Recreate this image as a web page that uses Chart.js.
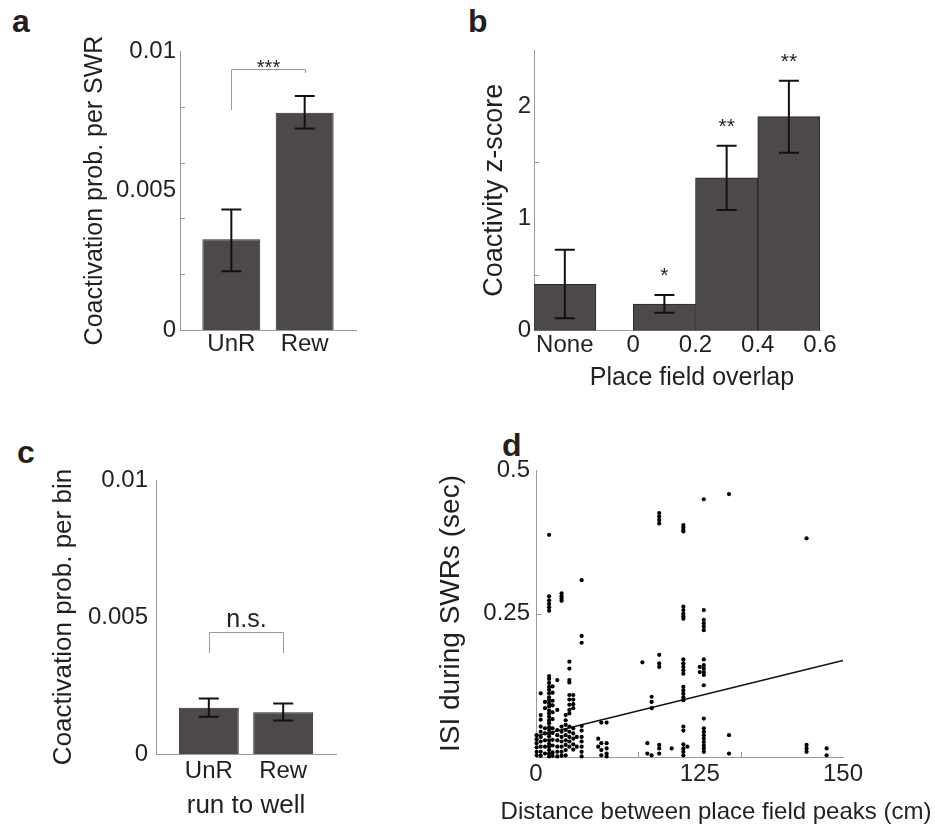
<!DOCTYPE html>
<html><head><meta charset="utf-8">
<script src="https://cdn.jsdelivr.net/npm/chart.js@4"></script>
<style>
html,body{margin:0;padding:0;background:#fff;}
body{width:935px;height:829px;position:relative;overflow:hidden;font-family:"Liberation Sans",Arial,sans-serif;}
canvas{position:absolute;}
.lab{position:absolute;font-weight:bold;font-size:32px;line-height:32px;color:#231f20;}
</style></head><body>
<div class="lab" style="left:12px;top:5px">a</div>
<div class="lab" style="left:468px;top:5px">b</div>
<div class="lab" style="left:17px;top:436px">c</div>
<div class="lab" style="left:502px;top:429px">d</div>
<canvas id="ca" width="420" height="420" style="left:0;top:0"></canvas>
<canvas id="cb" width="470" height="420" style="left:430px;top:0"></canvas>
<canvas id="cc" width="420" height="409" style="left:0;top:420px"></canvas>
<canvas id="cd" width="505" height="409" style="left:430px;top:420px"></canvas>
<script>
// ---------- data ----------
// panel a
const aCats = ['UnR', 'Rew'];
const aPos = [1, 2];
const aMean = [0.00325, 0.00779];
const aErrLo = [0.00211, 0.00722];
const aErrHi = [0.00432, 0.00839];
const aYTicks = [0, 0.005, 0.01];
const aYLabels = ['0', '0.005', '0.01'];
const aYMinor = [0.002, 0.004, 0.006, 0.008];

// panel b
const bTickPos = [-0.22, 0, 0.2, 0.4, 0.6];
const bTickLabels = ['None', '0', '0.2', '0.4', '0.6'];
const bBarPos = [-0.22, 0.1, 0.3, 0.5];
const bMean = [0.413, 0.238, 1.362, 1.906];
const bErrLo = [0.11, 0.16, 1.075, 1.585];
const bErrHi = [0.72, 0.318, 1.647, 2.226];
const bStars = ['', '*', '**', '**'];
const bYTicks = [0, 1, 2];
const bYLabels = ['0', '1', '2'];
const bYMinor = [0.5, 1.5];

// panel c
const cCats = ['UnR', 'Rew'];
const cPos = [1, 2];
const cMean = [0.00169, 0.00152];
const cErrLo = [0.00136, 0.00122];
const cErrHi = [0.00203, 0.00184];
const cYTicks = [0, 0.005, 0.01];
const cYLabels = ['0', '0.005', '0.01'];

// panel d (scatter, grouped by distance column)
const dColX = [0.3, 2.3, 4.4, 6.4, 8.1, 10.4, 12.5, 14.5, 16.3, 18.2, 19.9, 22.3, 30.4, 31.9, 34.5, 52, 54.4, 56.5, 60.2, 66.3, 72, 74, 80, 82, 94.3, 132.2, 142];
const dColY = [
  [0.038, 0.031, 0.024, 0.017, 0.009, 0.003],
  [0.111, 0.073, 0.065, 0.053, 0.044, 0.035, 0.027, 0.018, 0.009, 0.002],
  [0.096, 0.085, 0.050, 0.041, 0.029, 0.018, 0.006],
  [0.387, 0.280, 0.273, 0.267, 0.261, 0.255, 0.141, 0.136, 0.129, 0.122, 0.117, 0.111, 0.104, 0.099, 0.093, 0.088, 0.081, 0.076, 0.070, 0.064, 0.059, 0.052, 0.047, 0.041, 0.036, 0.029, 0.023, 0.018, 0.012, 0.006, 0.001],
  [0.123, 0.112, 0.098, 0.090, 0.078, 0.066, 0.050, 0.042, 0.030, 0.020, 0.008, 0.002],
  [0.134, 0.082, 0.047, 0.038, 0.029, 0.018, 0.009, 0.001],
  [0.285, 0.280, 0.276, 0.272, 0.053, 0.044, 0.035, 0.027, 0.018, 0.009, 0.002],
  [0.073, 0.064, 0.056, 0.047, 0.038, 0.029, 0.021, 0.012, 0.003],
  [0.166, 0.154, 0.134, 0.130, 0.108, 0.100, 0.091, 0.082, 0.076, 0.053, 0.044, 0.035, 0.027, 0.018],
  [0.108, 0.100, 0.092, 0.085, 0.050, 0.041, 0.032, 0.022, 0.013],
  [0.035, 0.018],
  [0.308, 0.211, 0.199, 0.054, 0.046, 0.035, 0.027, 0.018, 0.009, 0.001],
  [0.032, 0.018],
  [0.060, 0.024, 0.012, 0.003],
  [0.060, 0.024, 0.015, 0.006, 0.001],
  [0.165],
  [0.024, 0.006],
  [0.105, 0.096, 0.085, 0.003],
  [0.425, 0.419, 0.413, 0.407, 0.178, 0.163, 0.157, 0.021, 0.015, 0.006],
  [0.015],
  [0.404, 0.400, 0.396, 0.393, 0.262, 0.256, 0.250, 0.245, 0.241, 0.170, 0.163, 0.157, 0.151, 0.145, 0.122, 0.116, 0.110, 0.104, 0.099, 0.053, 0.046, 0.022, 0.015, 0.009, 0.003],
  [0.018],
  [0.157, 0.148],
  [0.449, 0.256, 0.239, 0.233, 0.227, 0.221, 0.170, 0.160, 0.154, 0.148, 0.143, 0.125, 0.067, 0.050, 0.044, 0.038, 0.032, 0.026, 0.020, 0.015, 0.009],
  [0.458, 0.038, 0.006],
  [0.381, 0.021, 0.015, 0.009],
  [0.015, 0.003]
];
const fitX = [0.5, 150];
const fitY = [0.037, 0.168];
const dXTickPos = [0, 80, 150];
const dXTickLabels = ['0', '125', '150'];
const dXMinor = [50, 100];
const dYTicks = [0, 0.25, 0.5];
const dYLabels = ['', '0.25', '0.5'];
const dYMinor = [0.25];

// ---------- style ----------
const FONT = '"Liberation Sans", Arial, Helvetica, sans-serif';
const TXT = '#231f20';
const AX = '#9a9a9a';
const BAR = '#4d4948';
const BAR_EDGE = '#2b2727';
Chart.defaults.font.family = FONT;
Chart.defaults.color = TXT;

function makeDeco(cfg) {
  return {
    id: 'deco_' + cfg.name,
    afterDatasetsDraw(chart) {
      const ctx = chart.ctx, xs = chart.scales.x, ys = chart.scales.y, ca = chart.chartArea;
      ctx.save();
      ctx.strokeStyle = AX; ctx.lineWidth = 1;
      (cfg.yMinor || []).forEach(v => {
        const py = Math.round(ys.getPixelForValue(v)) + 0.5;
        ctx.beginPath(); ctx.moveTo(ca.left, py); ctx.lineTo(ca.left + 5, py); ctx.stroke();
      });
      (cfg.xMinor || []).forEach(v => {
        const px = Math.round(xs.getPixelForValue(v)) + 0.5;
        ctx.beginPath(); ctx.moveTo(px, ca.bottom); ctx.lineTo(px, ca.bottom - 5); ctx.stroke();
      });
      if (cfg.err) {
        const e = cfg.err;
        ctx.strokeStyle = '#111'; ctx.lineWidth = 2;
        e.pos.forEach((p, i) => {
          const px = xs.getPixelForValue(p), yl = ys.getPixelForValue(e.lo[i]), yh = ys.getPixelForValue(e.hi[i]);
          ctx.beginPath();
          ctx.moveTo(px, yl); ctx.lineTo(px, yh);
          ctx.moveTo(px - 10, yl); ctx.lineTo(px + 10, yl);
          ctx.moveTo(px - 10, yh); ctx.lineTo(px + 10, yh);
          ctx.stroke();
        });
      }
      if (cfg.stars) {
        ctx.fillStyle = TXT; ctx.font = cfg.starSize + 'px ' + FONT;
        ctx.textAlign = 'center'; ctx.textBaseline = 'alphabetic';
        cfg.stars.forEach((s, i) => {
          if (!s) return;
          const px = xs.getPixelForValue(cfg.err.pos[i]);
          const cy = ys.getPixelForValue(cfg.err.hi[i]) - cfg.starGap;
          ctx.fillText(s, px, cy + 0.585 * cfg.starSize);
        });
      }
      if (cfg.bracket) {
        const b = cfg.bracket;
        const x1 = Math.round(xs.getPixelForValue(b.x1)) + 0.5, x2 = Math.round(xs.getPixelForValue(b.x2)) + 0.5;
        const yt = Math.round(ys.getPixelForValue(b.top)) + 0.5;
        const y1 = ys.getPixelForValue(b.y1), y2 = ys.getPixelForValue(b.y2);
        ctx.strokeStyle = AX; ctx.lineWidth = 1;
        ctx.beginPath(); ctx.moveTo(x1, y1); ctx.lineTo(x1, yt); ctx.lineTo(x2, yt); ctx.lineTo(x2, y2); ctx.stroke();
        ctx.fillStyle = TXT; ctx.font = b.size + 'px ' + FONT;
        ctx.textAlign = 'center'; ctx.textBaseline = 'alphabetic';
        ctx.fillText(b.label, (x1 + x2) / 2, yt - b.gap + b.base * b.size);
      }
      (cfg.texts || []).forEach(t => {
        ctx.fillStyle = TXT; ctx.font = t.size + 'px ' + FONT;
        ctx.textAlign = 'center'; ctx.textBaseline = 'middle';
        ctx.fillText(t.text, t.x, t.y);
      });
      ctx.restore();
    }
  };
}

function xAxis(min, max, pos, labels, h, pad, title) {
  const s = {
    type: 'linear', min, max, offset: false,
    grid: { display: false, drawTicks: false },
    border: { color: AX, width: 1 },
    afterBuildTicks: sc => { sc.ticks = pos.map(v => ({ value: v })); },
    afterFit: sc => { sc.height = h; },
    ticks: { callback: (v, i) => labels[i], padding: pad, font: { size: 24 }, color: TXT, maxRotation: 0, autoSkip: false }
  };
  if (title) s.title = title;
  return s;
}
function yAxis(min, max, pos, labels, w, pad, title) {
  return {
    type: 'linear', min, max,
    grid: { display: false, drawTicks: false },
    border: { color: AX, width: 1 },
    afterBuildTicks: sc => { sc.ticks = pos.map(v => ({ value: v })); },
    afterFit: sc => { sc.width = w; },
    ticks: { callback: (v, i) => labels[i], padding: pad, font: { size: 24 }, color: TXT, autoSkip: false },
    title: title
  };
}
const common = { responsive: false, animation: false, events: [], plugins: { legend: { display: false }, tooltip: { enabled: false } } };

// ---------- panel a ----------
new Chart(document.getElementById('ca'), {
  type: 'bar',
  data: { datasets: [{ data: aPos.map((x, i) => ({ x, y: aMean[i] })), backgroundColor: BAR, borderColor: BAR_EDGE, borderWidth: 1, barPercentage: 0.79, categoryPercentage: 1 }] },
  options: Object.assign({}, common, {
    layout: { padding: { top: 51, right: 64, bottom: 0, left: 0 } },
    scales: {
      x: xAxis(0.3, 2.7, aPos, aCats, 90, 0),
      y: yAxis(0, 0.01, aYTicks, aYLabels, 180, 4, { display: true, text: 'Coactivation prob. per SWR', font: { size: 25 }, color: TXT, padding: { top: 80, bottom: 0 } })
    }
  }),
  plugins: [makeDeco({ name: 'a', yMinor: aYMinor, err: { pos: aPos, lo: aErrLo, hi: aErrHi },
    bracket: { x1: 1, x2: 2, top: 0.00934, y1: 0.00788, y2: 0.00921, label: '***', size: 20, gap: 7, base: 0.585 } })]
});

// ---------- panel b ----------
new Chart(document.getElementById('cb'), {
  type: 'bar',
  data: { datasets: [{ data: bBarPos.map((x, i) => ({ x, y: bMean[i] })), backgroundColor: BAR, borderColor: BAR_EDGE, borderWidth: 1, barPercentage: 1, categoryPercentage: 1 }] },
  options: Object.assign({}, common, {
    layout: { padding: { top: 50, right: 80, bottom: 0, left: 0 } },
    scales: {
      x: xAxis(-0.319, 0.6, bTickPos, bTickLabels, 89.3, 0),
      y: yAxis(0, 2.5, bYTicks, bYLabels, 104, 3, { display: true, text: 'Coactivity z-score', font: { size: 27 }, color: TXT, padding: { top: 48, bottom: 0 } })
    }
  }),
  plugins: [makeDeco({ name: 'b', yMinor: bYMinor, err: { pos: bBarPos, lo: bErrLo, hi: bErrHi }, stars: bStars, starSize: 21, starGap: 25,
    texts: [{ text: 'Place field overlap', x: 262, y: 378, size: 25 }] })]
});

// ---------- panel c ----------
new Chart(document.getElementById('cc'), {
  type: 'bar',
  data: { datasets: [{ data: cPos.map((x, i) => ({ x, y: cMean[i] })), backgroundColor: BAR, borderColor: BAR_EDGE, borderWidth: 1, barPercentage: 0.806, categoryPercentage: 1 }] },
  options: Object.assign({}, common, {
    layout: { padding: { top: 60, right: 84, bottom: 0, left: 0 } },
    scales: {
      x: xAxis(0.29, 2.71, cPos, cCats, 75, 3, { display: true, text: 'run to well', font: { size: 26 }, color: TXT, padding: { top: 0, bottom: 8 } }),
      y: yAxis(0, 0.01, cYTicks, cYLabels, 156, 8, { display: true, text: 'Coactivation prob. per bin', font: { size: 26 }, color: TXT, padding: { top: 48, bottom: 0 } })
    }
  }),
  plugins: [makeDeco({ name: 'c', err: { pos: cPos, lo: cErrLo, hi: cErrHi },
    bracket: { x1: 1, x2: 2, top: 0.00444, y1: 0.00368, y2: 0.00368, label: 'n.s.', size: 25, gap: 12, base: 0.26 } })]
});

// ---------- panel d ----------
const dPoints = [];
dColX.forEach((x, i) => dColY[i].forEach(y => dPoints.push({ x, y })));
new Chart(document.getElementById('cd'), {
  type: 'scatter',
  data: { datasets: [
    { data: dPoints, pointRadius: 2.1, pointBackgroundColor: '#000', pointBorderWidth: 0, clip: false },
    { type: 'line', data: fitX.map((x, i) => ({ x, y: fitY[i] })), borderColor: '#111', borderWidth: 1.5, pointRadius: 0, showLine: true, fill: false }
  ] },
  options: Object.assign({}, common, {
    layout: { padding: { top: 50, right: 92, bottom: 0, left: 0 } },
    scales: {
      x: xAxis(0, 150, dXTickPos, dXTickLabels, 72, 3),
      y: yAxis(0, 0.5, dYTicks, dYLabels, 106, 6, { display: true, text: 'ISI during SWRs (sec)', font: { size: 28 }, color: TXT, padding: { top: 4, bottom: 0 } })
    }
  }),
  plugins: [makeDeco({ name: 'd', xMinor: dXMinor, yMinor: dYMinor,
    texts: [{ text: 'Distance between place field peaks (cm)', x: 286, y: 392, size: 24 }] })]
});
</script>
</body></html>
